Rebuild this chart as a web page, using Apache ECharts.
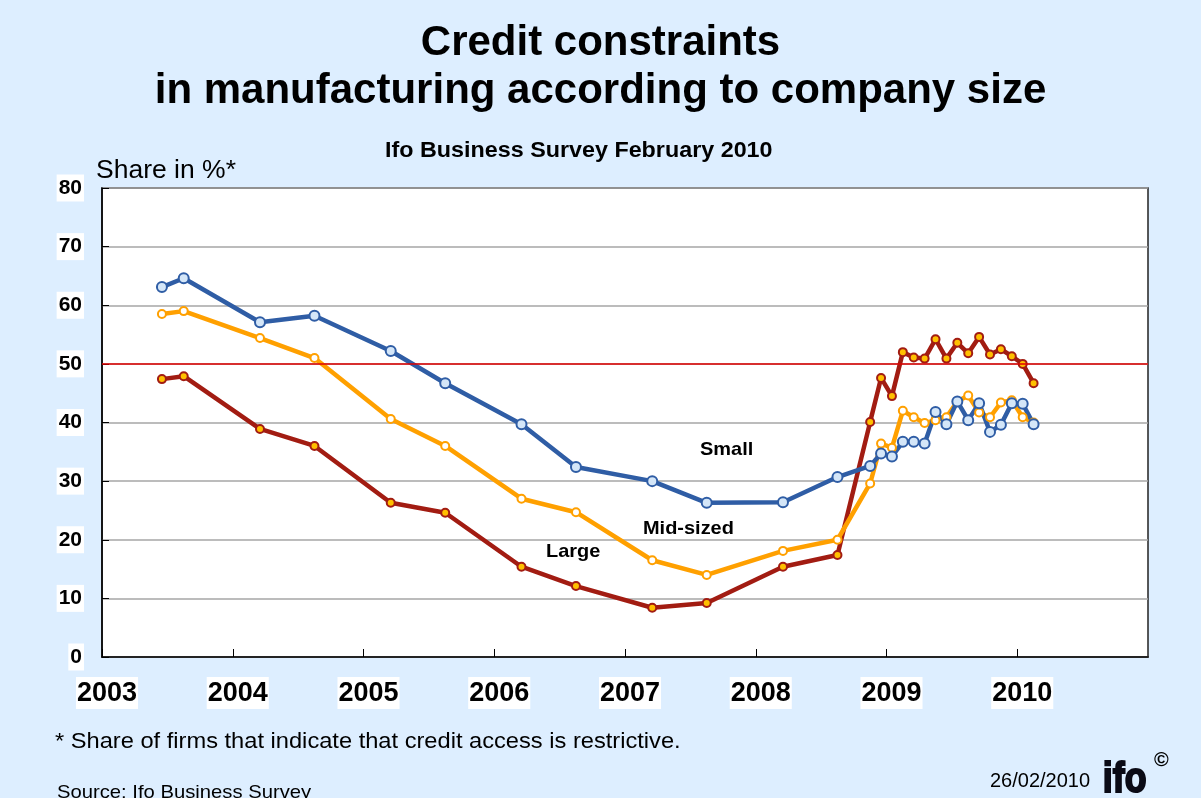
<!DOCTYPE html>
<html>
<head>
<meta charset="utf-8">
<script src="https://cdn.jsdelivr.net/npm/echarts@6/dist/echarts.min.js"></script>
<style>
html,body{margin:0;padding:0;background:#DDEEFF;}
#c{width:1201px;height:798px;}
</style>
</head>
<body>
<div id="c"></div>
<script>
// Survey months (year-month)
const months = [
  '2003-06','2003-08','2004-03','2004-08','2005-03','2005-08','2006-03','2006-08',
  '2007-03','2007-08','2008-03','2008-08','2008-11','2008-12',
  '2009-01','2009-02','2009-03','2009-04','2009-05','2009-06','2009-07','2009-08',
  '2009-09','2009-10','2009-11','2009-12','2010-01','2010-02'
];
const small = [63.1,64.6,57.1,58.2,52.2,46.7,39.7,32.4,30.0,26.3,26.4,30.7,32.6,34.7,
  34.2,36.7,36.7,36.4,41.8,39.7,43.6,40.4,43.3,38.4,39.6,43.3,43.2,39.7];
const midSized = [58.5,59.0,54.4,51.0,40.6,36.0,27.0,24.7,16.5,14.0,18.1,20.0,29.6,36.4,
  35.7,42.0,40.9,39.9,40.4,40.9,43.6,44.6,41.7,40.9,43.4,43.8,40.9,40.0];
const large = [47.4,47.9,38.9,36.0,26.3,24.6,15.4,12.1,8.4,9.2,15.4,17.4,40.1,47.6,
  44.5,52.0,51.1,50.9,54.2,50.9,53.6,51.8,54.6,51.6,52.5,51.3,50.0,46.7];
const yearTicks = [2003,2004,2005,2006,2007,2008,2009,2010];
const yTicks = [0,10,20,30,40,50,60,70,80];

function toX(m){const p=m.split('-');return +p[0]+(+p[1]-0.5)/12;}
function pairs(vals){return months.map((m,i)=>[toX(m),vals[i]]);}

const chart = echarts.init(document.getElementById('c'));
const FONT = '"Liberation Sans", Arial, sans-serif';
function lineSeries(name, vals, color, fill, size){
  return {
    name, type:'line', data:pairs(vals), symbol:'circle', symbolSize:size,
    lineStyle:{color, width:4.5}, itemStyle:{color:fill, borderColor:color, borderWidth:2},
    emphasis:{disabled:true}, z:3
  };
}
const sLarge = lineSeries('Large', large, '#A21C12', '#FFC000', 8);
sLarge.markLine = {silent:true, symbol:'none', label:{show:false},
  lineStyle:{color:'#E00000', width:1.5, type:'solid'}, data:[{yAxis:50}]};
function txt(x,y,text,font,sx){
  return {type:'text', left:x, top:y, scaleX:sx||1, style:{text, font:font+' '+FONT, fill:'#000'}};
}
const option = {
  backgroundColor:'#DDEEFF',
  animation:false,
  grid:{left:102, right:53, top:188, bottom:141, show:true, backgroundColor:'#FFFFFF',
    borderColor:'#222', borderWidth:1.5},
  xAxis:{type:'value', min:2003, max:2011, interval:1,
    axisLine:{show:true, onZero:false, lineStyle:{color:'#000', width:1.5}},
    axisTick:{show:true, inside:true, length:8, lineStyle:{color:'#000'}},
    splitLine:{show:false},
    axisLabel:{margin:24, showMaxLabel:false,
      formatter:v=>yearTicks.indexOf(v)>=0?'{a|}{b|'+v+'}':'',
      rich:{
        a:{width:10},
        b:{fontFamily:FONT, fontSize:27, fontWeight:'bold', color:'#000',
           backgroundColor:'#fff', padding:[3,1,2,1], lineHeight:24}
      }}},
  yAxis:{type:'value', min:0, max:80, interval:10,
    axisLine:{show:true, lineStyle:{color:'#000', width:1.5}},
    axisTick:{show:true, inside:true, length:7, lineStyle:{color:'#000'}},
    splitLine:{show:true, lineStyle:{color:'#A6A6A6', width:1.5}},
    axisLabel:{margin:18, fontFamily:FONT, fontSize:21, fontWeight:'bold', color:'#000',
      backgroundColor:'#fff', padding:[3,2,2,2], lineHeight:22,
      formatter:v=>yTicks.indexOf(v)>=0?String(v):''}},
  series:[sLarge,
    lineSeries('Mid-sized', midSized, '#FFA000', '#FFFFFF', 8),
    lineSeries('Small', small, '#2F5DA5', '#D4E6F8', 10)],
  graphic:[
    {type:'text', left:'center', top:22, style:{text:'Credit constraints', font:'bold 42px '+FONT, fill:'#000'}},
    {type:'text', left:'center', top:70, style:{text:'in manufacturing according to company size', font:'bold 42px '+FONT, fill:'#000'}},
    txt(385,140,'Ifo Business Survey February 2010','bold 22px',1.06),
    txt(96,159,'Share in %*','25px',1.06),
    txt(700,440,'Small','bold 19px',1.05),
    txt(643,519,'Mid-sized','bold 19px',1.05),
    txt(546,542,'Large','bold 19px',1.05),
    txt(55,731,'* Share of firms that indicate that credit access is restrictive.','22px',1.075),
    txt(57,783,'Source: Ifo Business Survey','19px',1.065),
    txt(990,771,'26/02/2010','20px',1.0),
    {type:'text', left:1102, top:758, scaleX:0.85, style:{text:'ifo', font:'bold 42px '+FONT, fill:'#0b0b16', stroke:'#0b0b16', lineWidth:2}},
    txt(1154,750,'©','bold 20px',1.0)
  ]
};
chart.setOption(option);
</script>
</body>
</html>
